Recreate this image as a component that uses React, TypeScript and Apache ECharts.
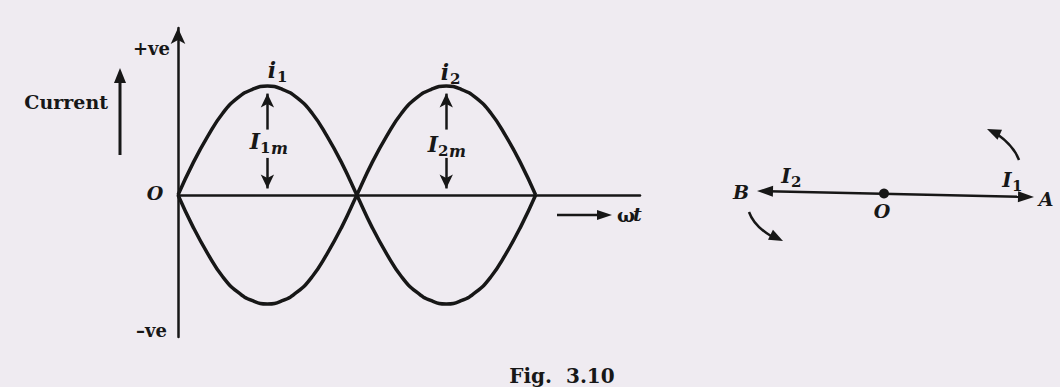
import React, { useEffect, useRef } from "react";
import * as echarts from "echarts";

// phase angle (degrees) and currents (per unit of peak)
const angles = [0, 15, 30, 45, 60, 75, 90, 105, 120, 135, 150, 165, 180, 195, 210, 225, 240, 255, 270, 285, 300, 315, 330, 345, 360];
const i1Values = [0, 0.29, 0.54, 0.75, 0.89, 0.97, 1, 0.97, 0.89, 0.75, 0.54, 0.29, 0, -0.29, -0.54, -0.75, -0.89, -0.97, -1, -0.97, -0.89, -0.75, -0.54, -0.29, 0];
const i2Values = [0, -0.29, -0.54, -0.75, -0.89, -0.97, -1, -0.97, -0.89, -0.75, -0.54, -0.29, 0, 0.29, 0.54, 0.75, 0.89, 0.97, 1, 0.97, 0.89, 0.75, 0.54, 0.29, 0];
const peak1At = 90;
const peak2At = 270;

const INK = "#171717";
const BOOK = "'DejaVu Serif', 'Liberation Serif', serif";

function txt(text: string, x: number, y: number, size: number, opts: any = {}) {
  const align = opts.align || "center";
  return {
    type: "text",
    x,
    y,
    silent: true,
    style: {
      text,
      fill: INK,
      fontSize: size,
      fontWeight: opts.weight || "bold",
      fontStyle: opts.italic ? "italic" : "normal",
      fontFamily: opts.family || BOOK,
      align,
      textAlign: align,
      verticalAlign: "middle",
      textVerticalAlign: "middle",
    },
  };
}

function head(tip: [number, number], dir: [number, number], len = 14, half = 5.5) {
  const n = Math.hypot(dir[0], dir[1]);
  const ux = dir[0] / n;
  const uy = dir[1] / n;
  const bx = tip[0] - ux * len;
  const by = tip[1] - uy * len;
  return {
    type: "polygon",
    silent: true,
    shape: { points: [tip, [bx - uy * half, by + ux * half], [bx + uy * half, by - ux * half]] },
    style: { fill: INK },
  };
}

export default function App() {
  const ref = useRef<HTMLDivElement>(null);
  useEffect(() => {
    if (!ref.current) return;
    const chart = echarts.init(ref.current, null, { renderer: "svg" });
    const arrowLine = (peak: number) => ({
      silent: true,
      symbol: ["none", "arrow"],
      symbolSize: [10, 14],
      label: { show: false },
      lineStyle: { color: INK, width: 2.5, type: "solid" },
      data: [
        [{ coord: [peak, 0.6] }, { coord: [peak, 0.93] }],
        [{ coord: [peak, 0.34] }, { coord: [peak, 0.06] }],
      ],
    });
    const graphic: any[] = [
      txt("+ve", 170, 48, 18, { align: "right" }),
      txt("Current", 108, 102, 19, { align: "right" }),
      { type: "line", silent: true, shape: { x1: 120, y1: 155, x2: 120, y2: 80 }, style: { stroke: INK, lineWidth: 3 } },
      head([120, 68], [0, -1], 15, 6),
      // i1 and I1m
      txt("i", 272, 70, 22, { italic: true }),
      txt("1", 277, 77, 15, { align: "left" }),
      txt("I", 255, 141, 22, { italic: true }),
      txt("1", 260, 148, 15, { align: "left" }),
      txt("m", 271, 148, 16, { italic: true, align: "left" }),
      // i2 and I2m
      txt("i", 445, 72, 22, { italic: true }),
      txt("2", 450, 79, 15, { align: "left" }),
      txt("I", 433, 144, 22, { italic: true }),
      txt("2", 438, 151, 15, { align: "left" }),
      txt("m", 449, 151, 16, { italic: true, align: "left" }),
      txt("O", 155, 193, 19, { italic: true }),
      txt("\u2013ve", 167, 330, 18, { align: "right" }),
      // omega t arrow
      { type: "line", silent: true, shape: { x1: 557, y1: 215, x2: 600, y2: 215 }, style: { stroke: INK, lineWidth: 2.5 } },
      head([612, 215], [1, 0], 15, 5),
      txt("\u03c9", 617, 215, 19, { align: "left" }),
      txt("t", 633, 214, 19, { italic: true, align: "left" }),
      txt("Fig.  3.10", 562, 376, 20),
      // phasor diagram
      { type: "line", silent: true, shape: { x1: 768, y1: 191.2, x2: 1022, y2: 196.8 }, style: { stroke: INK, lineWidth: 2.5 } },
      head([757, 191], [-277, -6], 16, 5.5),
      head([1034, 197], [277, 6], 16, 5.5),
      { type: "circle", silent: true, shape: { cx: 884, cy: 193.5, r: 5 }, style: { fill: INK } },
      txt("B", 741, 192, 19, { italic: true }),
      txt("A", 1046, 199, 19, { italic: true }),
      txt("O", 882, 211, 19, { italic: true }),
      txt("I", 786, 176, 20, { italic: true }),
      txt("2", 791, 182, 15, { align: "left" }),
      txt("I", 1007, 180, 20, { italic: true }),
      txt("1", 1012, 186, 15, { align: "left" }),
      { type: "bezierCurve", silent: true, shape: { x1: 1019, y1: 160, cpx1: 1014, cpy1: 146, x2: 997, y2: 134 }, style: { stroke: INK, lineWidth: 2.5, fill: "none" } },
      head([987, 129], [-18, -8], 14, 5.5),
      { type: "bezierCurve", silent: true, shape: { x1: 749, y1: 212, cpx1: 754, cpy1: 226, x2: 771, y2: 236 }, style: { stroke: INK, lineWidth: 2.5, fill: "none" } },
      head([783, 241], [12, 6], 14, 5.5),
    ];
    chart.setOption({
      animation: false,
      backgroundColor: "#efebf1",
      grid: { left: 178, top: 28, width: 462, height: 309 },
      xAxis: {
        type: "value",
        min: 0,
        max: 465,
        axisLine: { show: true, onZero: true, lineStyle: { color: INK, width: 2.5 } },
        axisTick: { show: false },
        axisLabel: { show: false },
        splitLine: { show: false },
      },
      yAxis: {
        type: "value",
        min: -1.303,
        max: 1.532,
        axisLine: { show: true, symbol: ["none", "arrow"], symbolSize: [11, 16], lineStyle: { color: INK, width: 2.5 } },
        axisTick: { show: false },
        axisLabel: { show: false },
        splitLine: { show: false },
      },
      series: [
        {
          name: "i1",
          type: "line",
          data: angles.map((a, k) => [a, i1Values[k]]),
          smooth: true,
          showSymbol: false,
          silent: true,
          lineStyle: { color: INK, width: 3.5 },
          markLine: arrowLine(peak1At),
        },
        {
          name: "i2",
          type: "line",
          data: angles.map((a, k) => [a, i2Values[k]]),
          smooth: true,
          showSymbol: false,
          silent: true,
          lineStyle: { color: INK, width: 3.5 },
          markLine: arrowLine(peak2At),
        },
      ],
      graphic,
    });
    return () => chart.dispose();
  }, []);
  return <div ref={ref} style={{ position: "fixed", left: 0, top: 0, width: 1060, height: 387 }} />;
}
